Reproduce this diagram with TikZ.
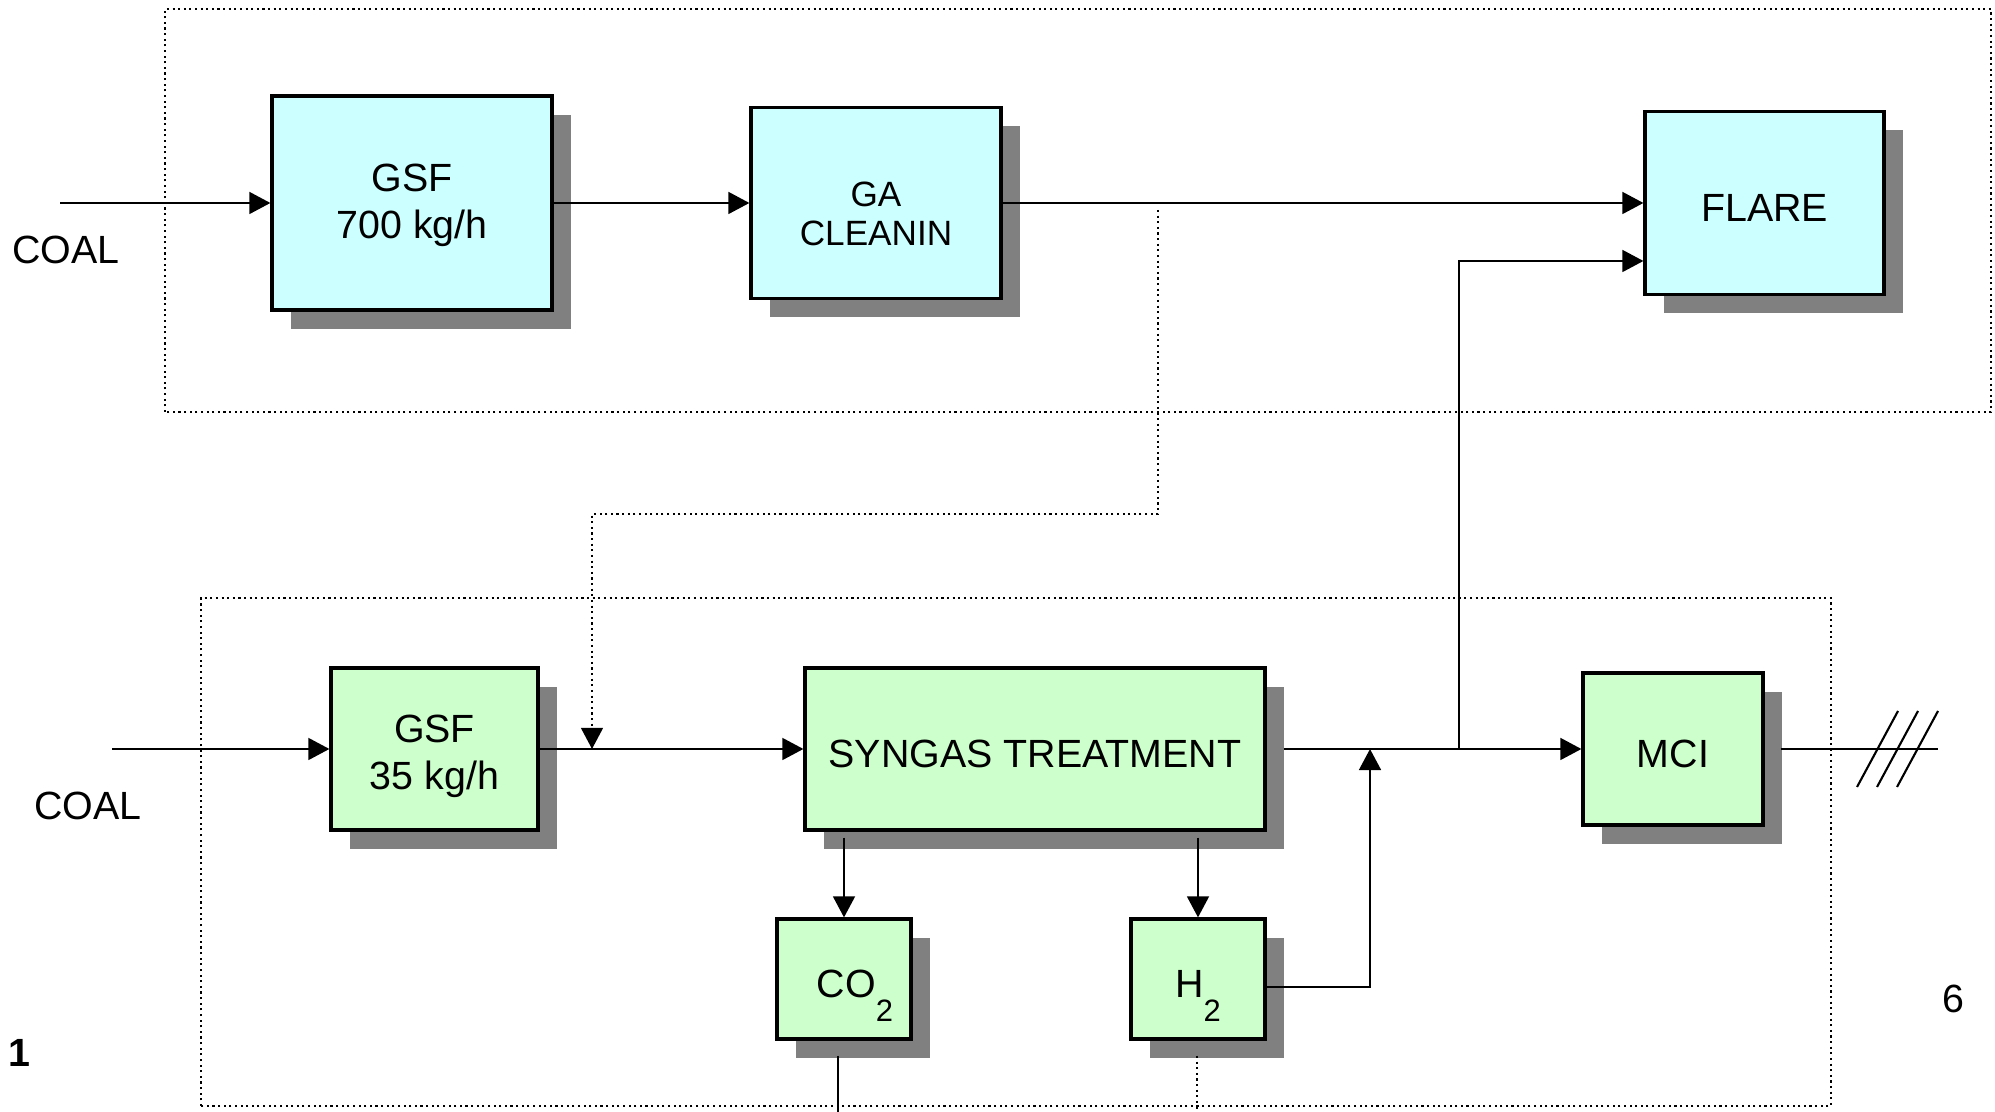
\documentclass[tikz,border=0pt]{standalone}
\usepackage{fontspec}
\setmainfont{Liberation Sans}
\definecolor{hotcyan}{RGB}{204, 255, 255}
\definecolor{coldgreen}{RGB}{204, 255, 204}
\definecolor{shadowgray}{RGB}{128, 128, 128}
\usetikzlibrary{shapes, arrows.meta, positioning, calc, shadows}

\tikzset{
  unitbox/.style={draw=black, line width=0.9pt, inner sep=0pt,
    drop shadow={shadow xshift=0.19cm, shadow yshift=-0.19cm, fill=shadowgray, opacity=1}},
  hotunit/.style={unitbox, fill=hotcyan},
  coldunit/.style={unitbox, fill=coldgreen},
  gasbox/.style={coldunit, minimum width=1.34cm, minimum height=1.20cm, text height=12.6pt, text depth=2pt},
  flow/.style={line width=0.7pt, -{Triangle[length=6pt, width=6.2pt]}},
  pipe/.style={line width=0.7pt},
  plantframe/.style={densely dotted, line width=0.6pt},
}
\newcommand{\lowidx}[1]{\raisebox{-6.8pt}{\fontsize{8.8}{8.8}\selectfont #1}}
\newcommand{\unittext}[2][0.09cm]{\raisebox{-#1}[\height][\depth]{\begin{tabular}{@{}c@{}}#2\end{tabular}}}

\begin{document}
\begin{tikzpicture}[font=\fontsize{11.2}{13.4}\selectfont]
  \useasboundingbox (0,0) rectangle (19.95,11.12);

  % Plant frames
  \draw[plantframe] (1.65,7.00) rectangle (19.91,11.03);
  \draw[plantframe] (2.01,0.06) rectangle (18.31,5.14);

  % Large gasifier line
  \node[hotunit, minimum width=2.80cm, minimum height=2.14cm] (gsfbig) at (4.12,9.09) {\unittext[0.025cm]{GSF\\700 kg/h}};
  \node[hotunit, minimum width=2.50cm, minimum height=1.91cm, font=\fontsize{10}{11.2}\selectfont] (gaclean) at (8.76,9.09) {\unittext[0.15cm]{GA\\CLEANIN}};
  \node[hotunit, minimum width=2.39cm, minimum height=1.83cm] (flare) at (17.645,9.09) {\unittext{FLARE}};

  \coordinate (coalbigin) at (0.60,9.09);
  \node (coalbig) at (0.66,8.62) {COAL};

  \draw[flow] (coalbigin) -- (gsfbig.west);
  \draw[flow] (gsfbig.east) -- (gaclean.west);
  \draw[flow] (gaclean.east) -- (flare.west);

  % Small gasifier line
  \node[coldunit, minimum width=2.07cm, minimum height=1.62cm] (gsfsmall) at (4.345,3.63) {\unittext[0.08cm]{GSF\\35 kg/h}};
  \node[coldunit, minimum width=4.60cm, minimum height=1.62cm] (syngas) at (10.35,3.63) {\unittext{SYNGAS TREATMENT}};
  \node[coldunit, minimum width=1.80cm, minimum height=1.52cm] (mci) at (16.73,3.63) {\unittext{MCI}};
  \node[gasbox] (cotwo) at (8.44,1.33) {\hspace*{0.22cm}CO\lowidx{2}};
  \node[gasbox] (htwo) at (11.98,1.33) {H\lowidx{2}};

  \coordinate (coalsmallin) at (1.12,3.63);
  \node (coalsmall) at (0.88,3.06) {COAL};

  \draw[flow] (coalsmallin) -- (gsfsmall.west);
  \draw[flow] (gsfsmall.east) -- (syngas.west);
  \draw[flow] ([xshift=0.17cm]syngas.east) -- (mci.west);
  \draw[flow] ($(syngas.south -| cotwo.north)+(0,-0.06)$) -- (cotwo.north);
  \draw[flow] ($(syngas.south -| htwo.north)+(0,-0.06)$) -- (htwo.north);

  % H2 back to the engine feed
  \coordinate (hjoin) at (13.70,3.63);
  \draw[flow] ([yshift=-0.08cm]htwo.east) -| (hjoin);

  % Bypass to flare
  \coordinate (bypass) at (14.59,3.63);
  \draw[flow] (bypass) |- ([yshift=-0.58cm]flare.west);

  % Sample line from the large plant
  \coordinate (tapout) at (11.58,9.02);
  \coordinate (tapin) at (5.92,3.63);
  \draw[plantframe, -{Triangle[length=6pt, width=6.2pt]}] (tapout) |- (8,5.98) -| (tapin);

  % Engine output
  \coordinate (mciout) at (19.38,3.63);
  \draw[pipe] ([xshift=0.16cm]mci.east) -- (mciout);
  \foreach \dx in {0,0.2,0.4}
    \draw[line width=0.6pt] (18.57+\dx,3.25) -- (18.98+\dx,4.01);

  % Outlets below
  \coordinate (cotwoout) at (8.38,0);
  \coordinate (htwoout) at (11.97,0);
  \draw[pipe] (8.38,0.56) -- (cotwoout);
  \draw[plantframe] (11.97,0.56) -- (htwoout);

  % Page marks
  \node[font=\fontsize{11.2}{13.4}\selectfont\bfseries] (pageone) at (0.19,0.59) {1};
  \node (pagesix) at (19.53,1.13) {6};
\end{tikzpicture}
\end{document}
